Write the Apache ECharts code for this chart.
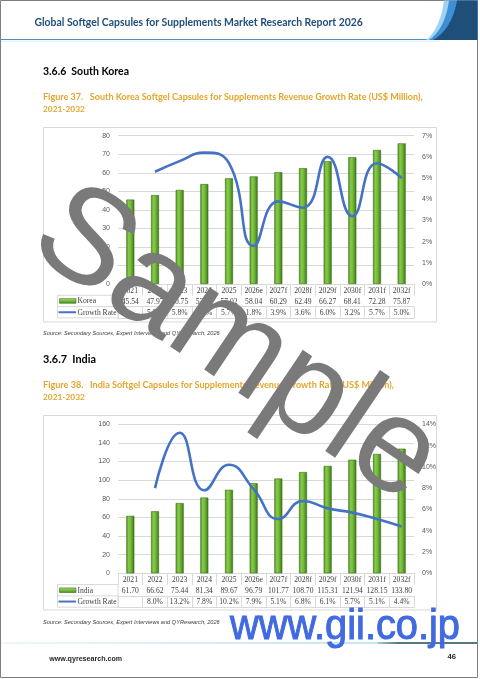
<!DOCTYPE html>
<html><head><meta charset="utf-8">
<script src="https://cdn.jsdelivr.net/npm/echarts@6/dist/echarts.min.js"></script>
<style>html,body{margin:0;padding:0;background:#fff;}#c{width:480px;height:679px;}</style>
</head><body><div id="c"></div>
<script>
// ---------- data ----------
const years = ['2021','2022','2023','2024','2025','2026e','2027f','2028f','2029f','2030f','2031f','2032f'];
const koreaRevenue = [45.54,47.97,50.75,53.92,57.02,58.04,60.29,62.49,66.27,68.41,72.28,75.87];
const koreaGrowth  = [null,5.3,5.8,6.2,5.7,1.8,3.9,3.6,6.0,3.2,5.7,5.0];
const indiaRevenue = [61.70,66.62,75.44,81.34,89.67,96.79,101.77,108.70,115.31,121.94,128.15,133.80];
const indiaGrowth  = [null,8.0,13.2,7.8,10.2,7.9,5.1,6.8,6.1,5.7,5.1,4.4];
const koreaValueTicks = [0,10,20,30,40,50,60,70,80];
const koreaRateTicks  = [0,1,2,3,4,5,6,7];
const indiaValueTicks = [0,20,40,60,80,100,120,140,160];
const indiaRateTicks  = [0,2,4,6,8,10,12,14];

// ---------- helpers ----------
const SANS = '"Liberation Sans", Arial, sans-serif';
const SERIF = '"Liberation Serif", serif';
const HEAD = 'Lato, "Open Sans", sans-serif';
const mctx = document.createElement('canvas').getContext('2d');
function fitSize(text, family, weight, style, targetW){
  mctx.font = (style||'normal')+' '+(weight||'normal')+' 100px '+family;
  return 100*targetW/mctx.measureText(text).width;
}
function txt(text, x, y, o){
  o = o||{};
  const fam = o.family||HEAD, wt = o.weight||'normal', st = o.style||'normal';
  const fs = o.width ? fitSize(text, fam, wt, st, o.width) : (o.size||10);
  const style = {text:text, fill:o.color||'#000', fontSize:fs, fontWeight:wt, fontStyle:st, fontFamily:fam,
      align:o.align||'left', textAlign:o.align||'left', verticalAlign:o.va||'middle', textVerticalAlign:o.va||'middle'};
  if (o.stroke) { style.stroke = o.stroke; style.lineWidth = o.strokeWidth||1; }
  return {type:'text', x:x, y:y, z:o.z||50, rotation:o.rotation||0, scaleX:o.scaleX||1, style:style};
}
function swoosh(x0, xc, x1, fill){
  const pts = [];
  for (let i=0;i<=20;i++){
    const t=i/20, a=(1-t)*(1-t), b=2*(1-t)*t, c=t*t;
    pts.push([a*x0+b*xc+c*x1, a*0.5+b*29+c*40]);
  }
  pts.push([477.5,40]); pts.push([477.5,0.5]);
  return {type:'polygon', shape:{points:pts}, style:{fill:fill}, z:10};
}
const GRID_C = '#D9D9D9';
const TXT_C = '#404040';
const ROW = 11.3;
const barGrad = {type:'linear', x:0, y:0, x2:1, y2:0, colorStops:[
  {offset:0, color:'#4f8f24'},{offset:0.3, color:'#86cc4a'},{offset:0.55, color:'#74bb3a'},{offset:1, color:'#3a7418'}]};

const grids = [], xAxes = [], yAxes = [], series = [];
function addChart(top, height, revenue, growth, vTicks, rTicks, name){
  const gi = grids.length;
  grids.push({left:118, top:top, width:296, height:height});
  const xi = xAxes.length;
  const cellAxis = (data, offset, showLabel, showTick) => ({
    type:'category', gridIndex:gi, position:'bottom', offset:offset, data:data,
    axisLine:{show:true, lineStyle:{color:GRID_C, width:1}},
    axisTick:{show:showTick, length:ROW, lineStyle:{color:GRID_C}},
    axisLabel:{show:showLabel, interval:0, margin:2.5, fontSize:7.6, color:TXT_C, fontFamily:SERIF}
  });
  xAxes.push(cellAxis(years, 0, true, true));
  xAxes.push(cellAxis(revenue.map(v=>v.toFixed(2)), ROW, true, true));
  xAxes.push(cellAxis(growth.map(v=>v==null?' ':v.toFixed(1)+'%'), ROW*2, true, true));
  xAxes.push(cellAxis(years, ROW*3, false, false));
  const yi = yAxes.length;
  yAxes.push({type:'value', gridIndex:gi, position:'left', min:vTicks[0], max:vTicks[vTicks.length-1], interval:vTicks[1]-vTicks[0],
    axisLine:{show:false}, axisTick:{show:false},
    axisLabel:{fontSize:7, color:'#595959', fontFamily:SANS, margin:8},
    splitLine:{lineStyle:{color:GRID_C, width:1}}});
  yAxes.push({type:'value', gridIndex:gi, position:'right', min:rTicks[0], max:rTicks[rTicks.length-1], interval:rTicks[1]-rTicks[0],
    axisLine:{show:false}, axisTick:{show:false},
    axisLabel:{fontSize:7, color:'#595959', fontFamily:SANS, margin:8, formatter:'{value}%'},
    splitLine:{show:false}});
  series.push({type:'bar', name:name, xAxisIndex:xi, yAxisIndex:yi, data:revenue, barWidth:8,
    itemStyle:{color:barGrad, borderColor:'#3b7019', borderWidth:0.6}});
  series.push({type:'line', name:'Growth Rate', xAxisIndex:xi, yAxisIndex:yi+1, data:growth, smooth:0.5,
    symbol:'none', lineStyle:{color:'#4472C4', width:2.6}, z:5});
}
addChart(135.7, 148.3, koreaRevenue, koreaGrowth, koreaValueTicks, koreaRateTicks, 'Korea');
addChart(424.3, 149, indiaRevenue, indiaGrowth, indiaValueTicks, indiaRateTicks, 'India');

function legendCells(rowTop, name){
  const els = [];
  els.push({type:'rect', shape:{x:57.5, y:rowTop, width:60.5, height:ROW*2}, style:{fill:'none', stroke:GRID_C, lineWidth:1}});
  els.push({type:'line', shape:{x1:57.5, y1:rowTop+ROW, x2:118, y2:rowTop+ROW}, style:{stroke:GRID_C, lineWidth:1}});
  els.push({type:'rect', shape:{x:59.5, y:rowTop+ROW/2-2.3, width:16.5, height:4.6},
    style:{fill:{type:'linear', x:0,y:0,x2:0,y2:1, colorStops:[{offset:0,color:'#a6e46a'},{offset:1,color:'#4a8a20'}]}, stroke:'#3b7019', lineWidth:0.6}});
  els.push(txt(name, 77.5, rowTop+ROW/2+0.3, {family:SERIF, size:7.6, color:TXT_C}));
  els.push({type:'line', shape:{x1:58.5, y1:rowTop+ROW*1.5, x2:76, y2:rowTop+ROW*1.5}, style:{stroke:'#4472C4', lineWidth:2}});
  els.push(txt('Growth Rate', 77.5, rowTop+ROW*1.5+0.3, {family:SERIF, size:7.6, color:TXT_C}));
  return els;
}

const src = 'Source: Secondary Sources, Expert Interviews and QYResearch, 2026';
const graphics = [
  {type:'rect', shape:{x:0.5, y:0.5, width:477, height:677}, style:{fill:'none', stroke:'#7f7f7f', lineWidth:1}, z:1},
  {type:'line', shape:{x1:1, y1:39.5, x2:440, y2:39.5}, style:{stroke:'#4f8cc9', lineWidth:1.2}},
  {type:'line', shape:{x1:1, y1:41.2, x2:440, y2:41.2}, style:{stroke:'#e3eef8', lineWidth:1}},
  swoosh(444, 440, 426, '#9fd3f2'),
  swoosh(449, 445, 429, '#3d8fd6'),
  swoosh(457, 452, 433, '#1f4e79'),
  txt('Global Softgel Capsules for Supplements Market Research Report 2026', 34.5, 22.8, {weight:'bold', color:'#1f4e79', width:329}),
  txt('3.6.6  South Korea', 43, 72, {weight:'bold', color:'#000', width:86}),
  txt('Figure 37.   South Korea Softgel Capsules for Supplements Revenue Growth Rate (US$ Million),', 43, 97, {weight:'bold', color:'#e3a52b', width:380}),
  txt('2021-2032', 43, 109.5, {weight:'bold', color:'#e3a52b', width:42}),
  {type:'rect', shape:{x:43.5, y:127.5, width:393, height:194.5}, style:{fill:'none', stroke:GRID_C, lineWidth:1}},
  txt(src, 43, 333.3, {style:'italic', family:SANS, color:'#404040', width:177}),
  txt('3.6.7  India', 43, 359, {weight:'bold', color:'#000', width:53}),
  txt('Figure 38.   India Softgel Capsules for Supplements Revenue Growth Rate (US$ Million),', 43, 385, {weight:'bold', color:'#e3a52b', width:351}),
  txt('2021-2032', 43, 397.5, {weight:'bold', color:'#e3a52b', width:42}),
  {type:'rect', shape:{x:43.5, y:415.5, width:393, height:194.5}, style:{fill:'none', stroke:GRID_C, lineWidth:1}},
  txt(src, 43, 622.5, {style:'italic', family:SANS, color:'#404040', width:177}),
  {type:'line', shape:{x1:1, y1:643, x2:400, y2:643}, style:{lineWidth:2, stroke:{type:'linear', x:0,y:0,x2:1,y2:0, colorStops:[{offset:0,color:'#eef7fa'},{offset:1,color:'#c5e3ec'}]}}},
  {type:'line', shape:{x1:378, y1:643, x2:477, y2:643}, style:{lineWidth:1.6, stroke:{type:'linear', x:0,y:0,x2:1,y2:0, colorStops:[{offset:0,color:'rgba(31,74,90,0.2)'},{offset:0.25,color:'#1f4a5a'},{offset:1,color:'#1f4a5a'}]}}},
  txt('www.qyresearch.com', 49.3, 659, {weight:'bold', family:SANS, color:'#262626', width:73}),
  txt('46', 447.5, 656.5, {weight:'bold', family:SANS, color:'#262626', width:8.5})
].concat(legendCells(284+ROW, 'Korea'), legendCells(573.3+ROW, 'India'));

graphics.push(txt('Sample', 236, 346, {family:SANS, size:135, color:'#7a7a7a', align:'center', rotation:-34*Math.PI/180, z:100}));
(function(){
  const fs = 43;
  mctx.font = 'normal '+fs+'px '+SANS;
  const w = mctx.measureText('www.gii.co.jp').width;
  graphics.push(txt('www.gii.co.jp', 230, 627, {family:SANS, size:fs, color:'#4169e1', stroke:'#4169e1', strokeWidth:1, scaleX:230/w, z:101}));
})();

const chart = echarts.init(document.getElementById('c'), null, {renderer:'canvas'});
chart.setOption({
  animation:false,
  backgroundColor:'#fff',
  grid:grids, xAxis:xAxes, yAxis:yAxes, series:series,
  graphic:{elements:graphics}
});
</script></body></html>
